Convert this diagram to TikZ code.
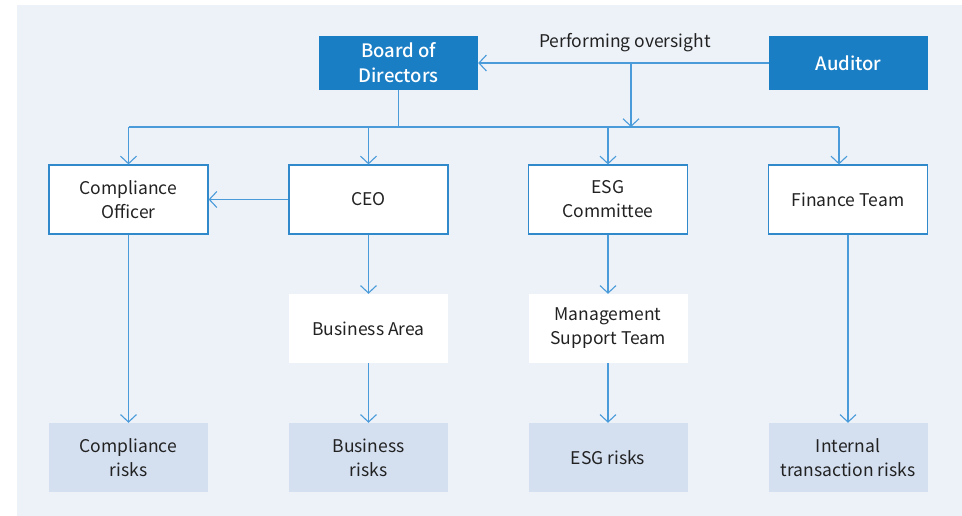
\documentclass[tikz,border=0pt]{standalone}
\usepackage{fontspec}
\setmainfont{Noto Sans CJK KR}
\IfFontExistsTF{Noto Sans CJK KR Medium}{\newfontfamily\medfont{Noto Sans CJK KR Medium}}{\newcommand\medfont{\bfseries}}
\usetikzlibrary{arrows.meta}
\definecolor{bgc}{HTML}{EDF2F9}
\definecolor{dark}{HTML}{1A7EC4}
\definecolor{bord}{HTML}{3089CB}
\definecolor{linec}{HTML}{4A9BD9}
\definecolor{riskc}{HTML}{D4DFF0}
\definecolor{txt}{HTML}{222222}
\tikzset{
  base/.style={minimum width=159pt, minimum height=69pt, inner sep=0pt, align=center, font=\fontsize{17.5}{24}\selectfont, text=txt},
  topbox/.style={base, fill=dark, minimum height=54pt, text=white, font=\medfont\fontsize{18.5}{25}\selectfont},
  midbox/.style={base, fill=white, draw=bord, line width=1.2pt},
  whitebox/.style={base, fill=white},
  riskbox/.style={base, fill=riskc},
  conn/.style={draw=linec, line width=1.2pt},
  arr/.style={conn, -{Straight Barb[length=7.5pt,width=16pt,line width=1.1pt]}}
}
\begin{document}
\begin{tikzpicture}[x=1pt,y=-1pt]
\useasboundingbox (0,0) rectangle (962,516);
\fill[bgc] (17,5) rectangle (962,516);
\node[topbox] (board) at (398.5,63) {Board of\\Directors};
\node[topbox] (aud) at (848.5,63) {Auditor};
\node[midbox] (co) at (128.5,199.5) {Compliance\\Officer};
\node[midbox] (ceo) at (368.5,199.5) {CEO};
\node[midbox] (esg) at (608,199.5) {ESG\\Committee};
\node[midbox] (fin) at (848,199.5) {Finance Team};
\node[whitebox] (ba) at (368.5,328.5) {Business Area};
\node[whitebox] (mst) at (608,328.5) {Management\\Support Team};
\node[riskbox] (r1) at (128.5,457.5) {Compliance\\risks};
\node[riskbox] (r2) at (368.5,457.5) {Business\\risks};
\node[riskbox] (r3) at (608,457.5) {ESG risks};
\node[riskbox] (r4) at (848,457.5) {Internal\\transaction risks};
\node[font=\fontsize{17.5}{24}\selectfont, text=txt] (po) at (625,43) {Performing oversight};
\coordinate (busL) at (128.5,127);
\coordinate (busR) at (839,127);
\coordinate (br) at (631,63);
\draw[conn] (board.south) -- (board.south |- busL);
\draw[conn] (busL) -- (busR);
\draw[arr] (aud.west) -- (board.east);
\draw[arr] (br) -- (br |- busL);
\draw[arr] (busL) -- (busL |- co.north);
\draw[arr] (ceo.north |- busL) -- (ceo.north);
\draw[arr] (esg.north |- busL) -- (esg.north);
\draw[arr] (busR) -- (busR |- fin.north);
\draw[arr] (ceo.west) -- (co.east);
\draw[arr] (co.south) -- (r1.north);
\draw[arr] (ceo.south) -- (ba.north);
\draw[arr] (ba.south) -- (r2.north);
\draw[arr] (esg.south) -- (mst.north);
\draw[arr] (mst.south) -- (r3.north);
\draw[arr] (fin.south) -- (r4.north);
\end{tikzpicture}
\end{document}
